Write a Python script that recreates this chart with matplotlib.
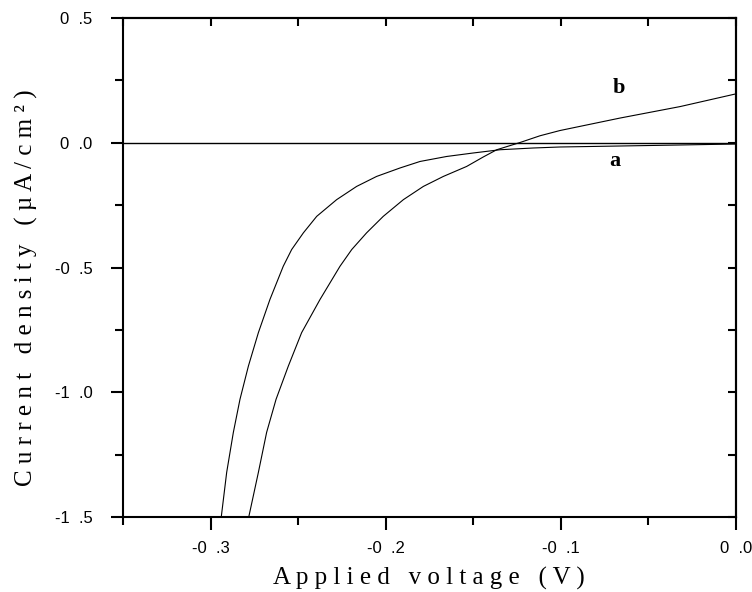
import matplotlib
matplotlib.use('Agg')
import matplotlib.pyplot as plt

# curve a
volt_a = [-0.2939, -0.2908, -0.2870, -0.2832, -0.2784, -0.2727, -0.2661, -0.2585,
          -0.2537, -0.2470, -0.2394, -0.2280, -0.2166, -0.2052, -0.1918, -0.1804,
          -0.1652, -0.1500, -0.1347, -0.1157, -0.1005, -0.066, -0.032, 0.0]
curr_a = [-1.5, -1.321, -1.161, -1.028, -0.895, -0.761, -0.628, -0.495,
          -0.428, -0.361, -0.295, -0.228, -0.175, -0.135, -0.101, -0.075,
          -0.055, -0.041, -0.028, -0.021, -0.017, -0.013, -0.009, -0.005]

# curve b
volt_b = [-0.2782, -0.2727, -0.2680, -0.2626, -0.2556, -0.2480, -0.2375, -0.2261,
          -0.2194, -0.2109, -0.2014, -0.1899, -0.1785, -0.1671, -0.1538, -0.1443,
          -0.1366, -0.1233, -0.1119, -0.1005, -0.0662, -0.0319, 0.0]
curr_b = [-1.5, -1.321, -1.161, -1.028, -0.895, -0.761, -0.628, -0.495,
          -0.428, -0.361, -0.295, -0.228, -0.175, -0.135, -0.095, -0.057,
          -0.028, 0.001, 0.028, 0.049, 0.099, 0.145, 0.196]

x_major = [-0.3, -0.2, -0.1, 0.0]
x_minor = [-0.35, -0.25, -0.15, -0.05]
y_major = [0.5, 0.0, -0.5, -1.0, -1.5]
y_minor = [0.25, -0.25, -0.75, -1.25]

sans = ['Liberation Sans', 'DejaVu Sans']
serif = ['Liberation Serif', 'DejaVu Serif']


def tick_text(v):
    s = '%.1f' % abs(v)
    s = s.replace('.', '  .')
    if v < 0:
        s = '-' + s
    return s


fig = plt.figure(figsize=(7.52, 5.92), dpi=100)
ax = fig.add_axes([123 / 752, 1 - 517 / 592, 613 / 752, 499 / 592])

ax.plot(volt_a, curr_a, color='black', lw=0.8)
ax.plot(volt_b, curr_b, color='black', lw=0.8)
ax.axhline(0, color='black', lw=1.0)

ax.set_xlim(-0.35, 0.0)
ax.set_ylim(-1.5, 0.5)

ax.set_xticks(x_major)
ax.set_xticks(x_minor, minor=True)
ax.set_yticks(y_major)
ax.set_yticks(y_minor, minor=True)
ax.set_xticklabels([tick_text(v) for v in x_major], fontsize=12, family=sans)
ax.set_yticklabels([tick_text(v) for v in y_major], fontsize=12, family=sans)
ax.tick_params(which='major', direction='out', length=9, width=1.5)
ax.tick_params(which='minor', direction='out', length=6, width=1.5)
ax.tick_params(axis='x', which='major', pad=8)
ax.tick_params(axis='y', which='major', pad=13)

# inward ticks on top and right
top = ax.secondary_xaxis('top')
top.set_xticks(x_major + x_minor)
top.tick_params(direction='in', length=6, width=1.5, labeltop=False)
right = ax.secondary_yaxis('right')
right.set_yticks(y_major + y_minor)
right.tick_params(direction='in', length=6, width=1.5, labelright=False)

for sp in list(ax.spines.values()) + [top.spines['top'], right.spines['right']]:
    sp.set_linewidth(1.5)

fig.text(429 / 752, 1 - 585 / 592, 'A p p l i e d   v o l t a g e   ( V )',
         fontsize=18, family=serif, ha='center', va='baseline')
fig.text(26 / 752, 1 - 288 / 592,
         'C u r r e n t   d e n s i t y   ( \u00b5 A / c m \u00b2 )',
         fontsize=18, family=serif, ha='center', va='center', rotation=90)

ax.text(-0.067, 0.219, 'b', fontsize=16, fontweight='bold', family=serif,
        ha='center', va='center')
ax.text(-0.069, -0.075, 'a', fontsize=16, fontweight='bold', family=serif,
        ha='center', va='center')

fig.savefig('out.png', dpi=100)
